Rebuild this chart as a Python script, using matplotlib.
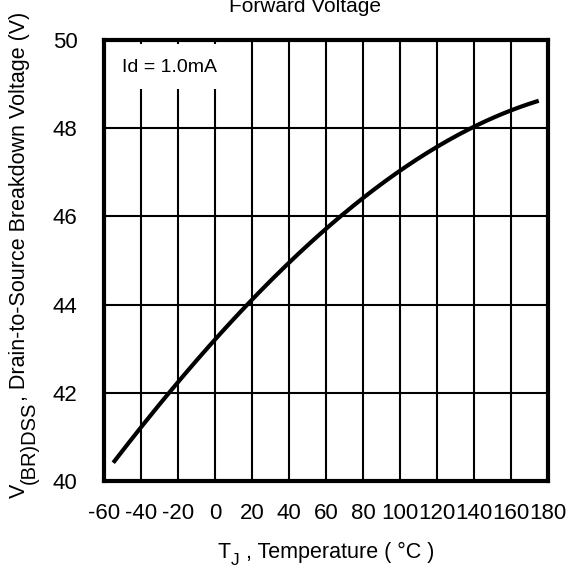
import matplotlib
matplotlib.use("Agg")
import matplotlib.pyplot as plt
from matplotlib.transforms import IdentityTransform
import numpy as np

plt.rcParams['font.family'] = ['Liberation Sans', 'DejaVu Sans']
plt.rcParams['axes.unicode_minus'] = False

# curve
temp = [-55, -40, -24, 0, 17, 40, 67, 100, 141, 160, 175]
vbr = [40.45, 41.2, 42.0, 43.2, 44.0, 44.95, 46.0, 47.05, 48.0, 48.4, 48.65]
xticks = [-60, -40, -20, 0, 20, 40, 60, 80, 100, 120, 140, 160, 180]
yticks = [40, 42, 44, 46, 48, 50]

W, H = 568, 567
fig = plt.figure(figsize=(W/100, H/100), dpi=100)
ax = fig.add_axes([104/W, 1-481/H, 444/W, 441/H])

# smooth through the read points
tt = np.linspace(temp[0], temp[-1], 200)
coef = np.polyfit(temp, vbr, 3)
ax.plot(tt, np.polyval(coef, tt), color='black', lw=3, solid_capstyle='butt', zorder=3)

ax.set_xlim(-60, 180)
ax.set_ylim(40, 50)
ax.set_xticks(xticks)
ax.set_yticks(yticks)
ax.grid(True, color='black', lw=1.5)
ax.tick_params(length=0, labelsize=16)
ax.tick_params(axis='x', pad=16)
ax.tick_params(axis='y', pad=19)
for s in ax.spines.values():
    s.set_linewidth(3)

ax.text(-50.5, 49.37, "Id = 1.0mA", fontsize=14, va='center', ha='left', zorder=4)
# white patch that hides the grid behind the label
ax.add_patch(plt.Rectangle((-59.2, 48.9), 69, 1.0, facecolor='white', edgecolor='none', zorder=2.5))

# axis labels built piece by piece so the subscripts can be big like the original
renderer = fig.canvas.get_renderer()

def chain(pieces, x0, y0, vertical):
    pos = x0 if not vertical else y0
    for s, size, off in pieces:
        if vertical:
            t = fig.text(x0 + off, pos, s, fontsize=size, rotation=90, rotation_mode='anchor',
                         ha='left', va='baseline', transform=IdentityTransform())
            pos = t.get_window_extent(renderer).y1
        else:
            t = fig.text(pos, y0 - off, s, fontsize=size, ha='left', va='baseline',
                         transform=IdentityTransform())
            pos = t.get_window_extent(renderer).x1

chain([("V", 15.5, 0), ("(BR)DSS", 14.5, 10), (", Drain-to-Source Breakdown Voltage (V)", 15.5, 0)],
      25, H - 498, True)
chain([("T", 15.5, 0), ("J", 12.5, 7), (" , Temperature ( °C )", 15.5, 0)],
      218, H - 558, False)

fig.text(305/W, 1-12/H, "Forward Voltage", fontsize=15, ha='center', va='baseline')

fig.savefig("out.png", dpi=100)
